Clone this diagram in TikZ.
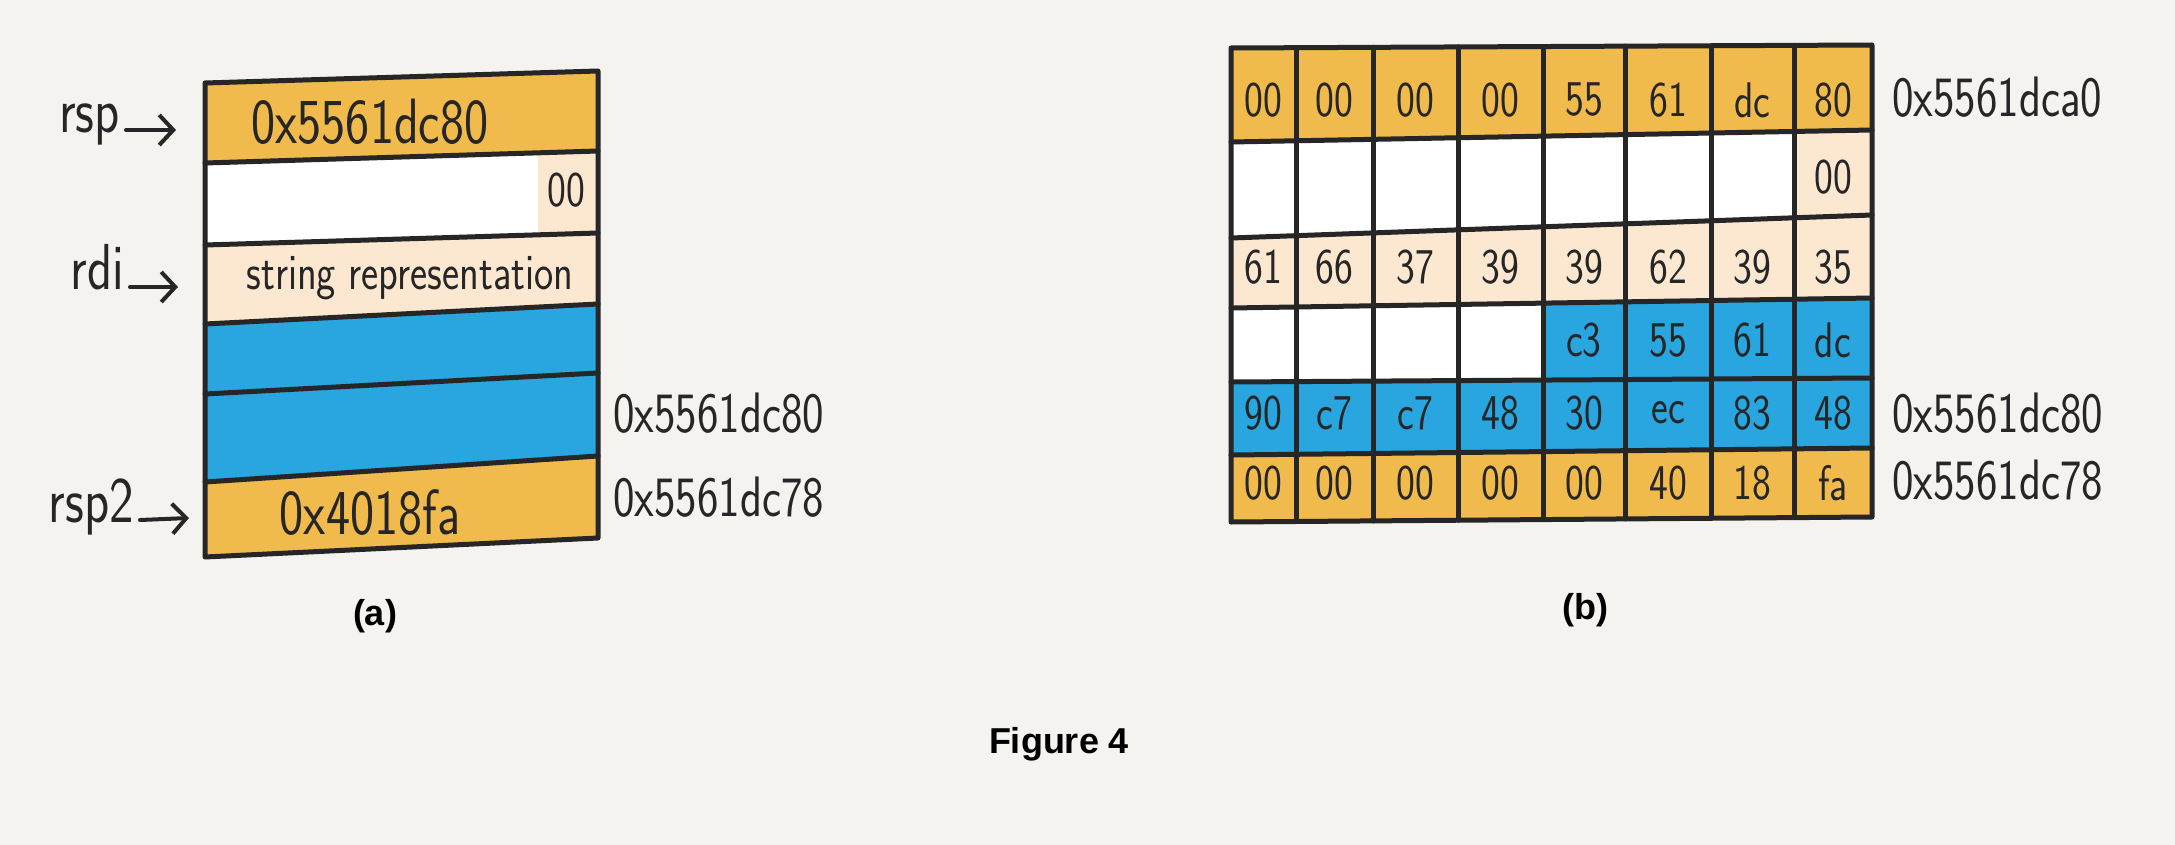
\documentclass[tikz,border=0pt]{standalone}
\usepackage{fontspec}
\newfontfamily\capfont{Liberation Sans}
\newfontfamily\handfont[FakeStretch=0.8]{Latin Modern Sans}
\usetikzlibrary{positioning,calc,arrows.meta}
\definecolor{bgc}{HTML}{F5F3EF}
\definecolor{ink}{HTML}{262626}
\definecolor{orng}{HTML}{F0BA4C}
\definecolor{beig}{HTML}{FCE8D0}
\definecolor{bluc}{HTML}{29A6DF}
\newcommand{\hand}[1]{\fontsize{#1}{#1}\selectfont\handfont}

\begin{document}
\begin{tikzpicture}[x=1pt,y=-1pt,
    org/.style={fill=orng},
    bei/.style={fill=beig},
    blu/.style={fill=bluc},
    wht/.style={fill=white},
    pen/.style={draw=ink, line width=5pt, line cap=round, line join=round},
    hex/.style={font=\hand{50}, text=ink, inner sep=0pt},
    big/.style={font=\hand{64}, text=ink, inner sep=0pt},
    addr/.style={font=\hand{57}, text=ink, anchor=west, inner sep=0pt},
    reg/.style={font=\hand{65}, text=ink, anchor=east, inner ysep=0pt, inner xsep=6pt, text height=0.45em, text depth=0pt},
    ptr/.style={draw=ink, line width=4pt, line cap=round, -{Straight Barb[length=14pt,width=30pt]}},
    capt/.style={font=\capfont\bfseries\fontsize{36}{36}\selectfont, inner sep=0pt}]
    \path[use as bounding box, fill=bgc] (0,0) rectangle (2175,845);

    % (a) stack
    \foreach \i/\l/\r in {0/83/71,1/163/151,2/245/233,3/324/304,4/394/373,5/482/456,6/557/538}{
        \coordinate (aL\i) at (205,\l);
        \coordinate (aR\i) at (598,\r);
    }
    \fill[org] (aL0) -- (aR0) -- (aR1) -- (aL1) -- cycle;
    \fill[wht] (aL1) -- (aR1) -- (aR2) -- (aL2) -- cycle;
    \fill[bei] ($(aL1)!0.847!(aR1)$) -- (aR1) -- (aR2) -- ($(aL2)!0.847!(aR2)$) -- cycle;
    \fill[bei] (aL2) -- (aR2) -- (aR3) -- (aL3) -- cycle;
    \fill[blu] (aL3) -- (aR3) -- (aR5) -- (aL5) -- cycle;
    \fill[org] (aL5) -- (aR5) -- (aR6) -- (aL6) -- cycle;
    \draw[pen] (aL0) -- (aR0) -- (aR6) -- (aL6) -- cycle;
    \foreach \i in {1,...,5} \draw[pen] (aL\i) -- (aR\i);

    \node[big](aret) at (370,122) {0x5561dc80};
    \node[hex](anul) at (566,190) {00};
    \node[hex, font=\hand{51}](astr) at (410,278) {string representation};
    \node[big](agad) at (370,513) {0x4018fa};
    \node[addr](aad1) at (613,413) {0x5561dc80};
    \node[addr](aad2) at (613,497) {0x5561dc78};

    \node[reg](rsp) at (126,130) {rsp};
    \node[reg](rdi) at (130,287) {rdi};
    \node[reg](rsptwo) at (140,520) {rsp2};
    \coordinate (rspT) at (176,130);
    \coordinate (rdiT) at (178,287);
    \coordinate (rsptwoT) at (189,518);
    \draw[ptr] (rsp.east) -- (rspT);
    \draw[ptr] (rdi.east) -- (rdiT);
    \draw[ptr] (rsptwo.east) -- (rsptwoT);

    % (b) bytes
    \foreach \i/\l/\r in {0/48/45,1/142/130,2/238/215,3/308/298,4/382/378,5/455/448,6/522/517}{
        \coordinate (bL\i) at (1231,\l);
        \coordinate (bR\i) at (1872,\r);
    }
    \fill[org] (bL0) -- (bR0) -- (bR1) -- (bL1) -- cycle;
    \fill[wht] (bL1) -- (bR1) -- (bR2) -- (bL2) -- cycle;
    \fill[bei] ($(bL1)!0.878!(bR1)$) -- (bR1) -- (bR2) -- ($(bL2)!0.878!(bR2)$) -- cycle;
    \fill[bei] (bL2) -- (bR2) -- (bR3) -- (bL3) -- cycle;
    \fill[wht] (bL3) -- (bR3) -- (bR4) -- (bL4) -- cycle;
    \fill[blu] ($(bL3)!0.487!(bR3)$) -- (bR3) -- (bR4) -- ($(bL4)!0.487!(bR4)$) -- cycle;
    \fill[blu] (bL4) -- (bR4) -- (bR5) -- (bL5) -- cycle;
    \fill[org] (bL5) -- (bR5) -- (bR6) -- (bL6) -- cycle;
    \draw[pen] (bL0) -- (bR0) -- (bR6) -- (bL6) -- cycle;
    \foreach \i in {1,...,5} \draw[pen] (bL\i) -- (bR\i);
    \foreach \x in {1296,1373,1458,1543,1625,1711,1794}{
        \pgfmathsetmacro\t{(\x-1231)/641}
        \draw[pen] ($(bL0)!\t!(bR0)$) -- ($(bL6)!\t!(bR6)$);
    }

    \foreach \y/\vals [count=\r] in {100/{00,00,00,00,55,61,dc,80},267/{61,66,37,39,39,62,39,35},413/{90,c7,c7,48,30,ec,83,48},483/{00,00,00,00,00,40,18,fa}}{
        \foreach \v [count=\c] in \vals{
            \pgfmathsetmacro\x{{1263.5,1334.5,1415.5,1500.5,1584,1668,1752.5,1833}[\c-1]}
            \node[hex](b\r c\c) at (\x,\y) {\v};
        }
    }
    \node[hex](bnul) at (1833,177) {00};
    \foreach \v/\x [count=\c] in {c3/1584,55/1668,61/1752.5,dc/1833}
        \node[hex](bret\c) at (\x,340) {\v};
    \node[addr](bad0) at (1892,97) {0x5561dca0};
    \node[addr](bad1) at (1892,413) {0x5561dc80};
    \node[addr](bad2) at (1892,480) {0x5561dc78};

    % captions
    \node[capt](capa) at (375,616) {(a)};
    \node[capt](capb) at (1585,610) {(b)};
    \node[capt](fig) at (1059,744) {Figure 4};
\end{tikzpicture}
\end{document}
